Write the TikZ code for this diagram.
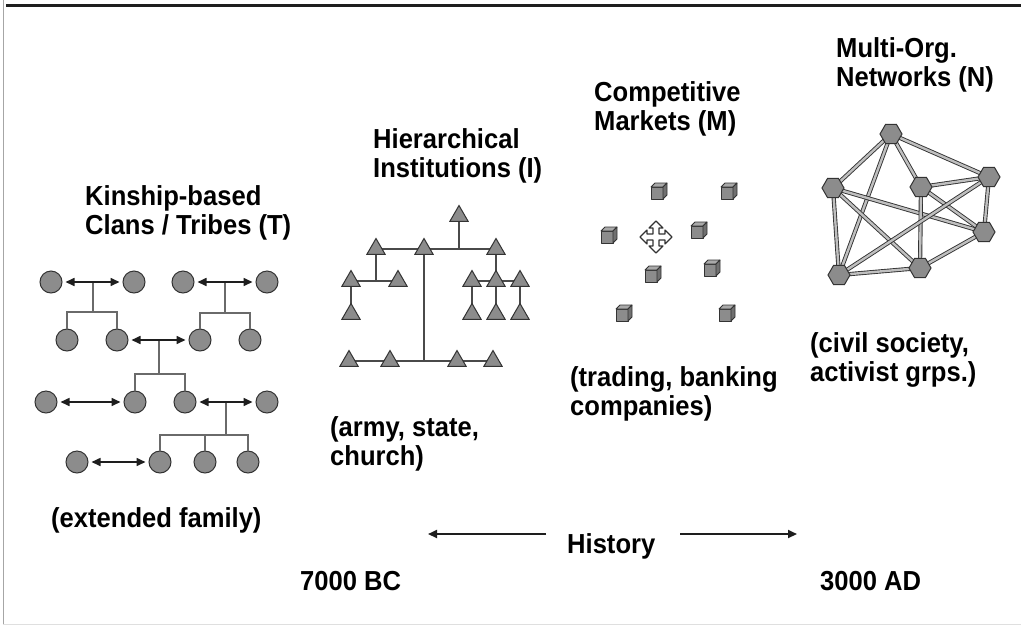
\documentclass[tikz,border=0pt]{standalone}
\usepackage{fontspec}
\setmainfont{Liberation Sans}[FakeStretch=0.93]
\usetikzlibrary{arrows.meta,shapes.geometric,backgrounds,calc}

\definecolor{ink}{HTML}{1E1E1E}
\definecolor{edge}{HTML}{333333}
\definecolor{shade}{HTML}{8C8C8C}
\definecolor{wire}{HTML}{6A6A6A}
\definecolor{rope}{HTML}{4A4A4A}

\tikzset{
  pics/box/.style={code={
    \draw[edge, fill=shade, line width=0.8pt, line join=round] (-8,-4) rectangle (4,8);
    \draw[edge, fill=shade!75!white, line width=0.8pt, line join=round] (-8,-4) -- (-4,-8) -- (8,-8) -- (4,-4) -- cycle;
    \draw[edge, fill=shade!80!black, line width=0.8pt, line join=round] (4,-4) -- (8,-8) -- (8,4) -- (4,8) -- cycle;
  }},
  pics/mover/.style={code={
    \draw[edge, fill=white, line width=1.1pt, line join=round]
      (3,3) -- (3,9) -- (7,9) -- (0,16) -- (-7,9) -- (-3,9) -- (-3,3)
      -- (-9,3) -- (-9,7) -- (-16,0) -- (-9,-7) -- (-9,-3) -- (-3,-3)
      -- (-3,-9) -- (-7,-9) -- (0,-16) -- (7,-9) -- (3,-9) -- (3,-3)
      -- (9,-3) -- (9,-7) -- (16,0) -- (9,7) -- (9,3) -- cycle;
  }}
}

\begin{document}
\begin{tikzpicture}[x=1pt, y=-1pt,
  lbl/.style={font=\bfseries\fontsize{27.5}{29}\selectfont, anchor=north west, inner sep=0pt, align=left, text=black},
  kin/.style={circle, draw=edge, fill=shade, line width=1pt, minimum size=22pt, inner sep=0pt},
  rank/.style={regular polygon, regular polygon sides=3, draw=edge, fill=shade, line width=1pt, minimum size=21pt, inner sep=0pt},
  org/.style={regular polygon, regular polygon sides=6, draw=edge, fill=shade, line width=1pt, minimum size=22pt, inner sep=0pt},
  tie/.style={draw=wire, line width=2pt},
  marry/.style={draw=ink, line width=1.6pt, {Triangle[length=9pt,width=8pt]}-{Triangle[length=9pt,width=8pt]}, shorten <=3pt, shorten >=3pt},
  chain/.style={draw=rope, line width=2pt},
  link/.style={draw=edge, line width=0.9pt, double=gray!50, double distance=2.4pt},
  timeline/.style={draw=ink, line width=2pt, -{Triangle[length=9pt,width=8pt]}},
]
\useasboundingbox (0,0) rectangle (1021,625);
\begin{pgfonlayer}{background}
  \fill[white] (0,0) rectangle (1021,625);
\end{pgfonlayer}

% frame
\draw[gray!70, line width=1.5pt] (3.3,0) -- (3.3,625);
\draw[gray!25, line width=1pt] (3.3,624) -- (1021,624);
\draw[ink, line width=3pt] (6,5.5) -- (1021,5.5);

% ---------- labels ----------
\node[lbl] (tT) at (85,185) {Kinship-based\\Clans / Tribes (T)};
\node[lbl] (tI) at (373,128) {Hierarchical\\Institutions (I)};
\node[lbl] (tM) at (594,81) {Competitive\\Markets (M)};
\node[lbl] (tN) at (836,37) {Multi-Org.\\Networks (N)};
\node[lbl] (eT) at (51,507) {(extended family)};
\node[lbl] (eI) at (330,416) {(army, state,\\church)};
\node[lbl] (eM) at (570,366) {(trading, banking\\companies)};
\node[lbl] (eN) at (810,332) {(civil society,\\activist grps.)};
\node[lbl] (hist) at (567,533) {History};
\node[lbl] (bc) at (300,571) {7000 BC};
\node[lbl] (ad) at (820,571) {3000 AD};

% ---------- history arrows ----------
\coordinate (pastS) at (546,534);
\coordinate (past) at (428,534);
\coordinate (futS) at (680,534);
\coordinate (future) at (797,534);
\draw[timeline] (pastS) -- (past);
\draw[timeline] (futS) -- (future);

% ---------- kinship tree ----------
\node[kin] (k11) at (51,282) {};
\node[kin] (k12) at (134,282) {};
\node[kin] (k13) at (183,282) {};
\node[kin] (k14) at (267,282) {};
\node[kin] (k21) at (67,340) {};
\node[kin] (k22) at (117,340) {};
\node[kin] (k23) at (200,340) {};
\node[kin] (k24) at (250,340) {};
\node[kin] (k31) at (46,402) {};
\node[kin] (k32) at (135,402) {};
\node[kin] (k33) at (185,402) {};
\node[kin] (k34) at (267,402) {};
\node[kin] (k41) at (77,462) {};
\node[kin] (k42) at (160,462) {};
\node[kin] (k43) at (205,462) {};
\node[kin] (k44) at (248,462) {};

\coordinate (m1) at ($(k11)!0.5!(k12)$);
\coordinate (m2) at ($(k13)!0.5!(k14)$);
\coordinate (m3) at ($(k22)!0.5!(k23)$);
\coordinate (m4) at ($(k33)!0.5!(k34)$);
\coordinate (j1) at (m1 |- 0,312);
\coordinate (j2) at (m2 |- 0,313);
\coordinate (j3) at (m3 |- 0,374);
\coordinate (j4) at (m4 |- 0,435);

\draw[tie] (m1) -- (j1);
\draw[tie] (k21.north) |- (j1) -| (k22.north);
\draw[tie] (m2) -- (j2);
\draw[tie] (k23.north) |- (j2) -| (k24.north);
\draw[tie] (m3) -- (j3);
\draw[tie] (k32.north) |- (j3) -| (k33.north);
\draw[tie] (m4) -- (j4);
\draw[tie] (k42.north) |- (j4) -| (k44.north);
\draw[tie] (k43.north) -- (k43 |- j4);

\draw[marry] (k11) -- (k12);
\draw[marry] (k13) -- (k14);
\draw[marry] (k22) -- (k23);
\draw[marry] (k31) -- (k32);
\draw[marry] (k33) -- (k34);
\draw[marry] (k41) -- (k42);

% ---------- hierarchy ----------
\node[rank] (r0) at (459,216) {};
\node[rank] (rA1) at (376,249) {};
\node[rank] (rA2) at (424,249) {};
\node[rank] (rA3) at (496,249) {};
\node[rank] (rB1) at (351,281) {};
\node[rank] (rB2) at (398,281) {};
\node[rank] (rB3) at (472,281) {};
\node[rank] (rB4) at (496,281) {};
\node[rank] (rB5) at (520,281) {};
\node[rank] (rC1) at (351,314) {};
\node[rank] (rC3) at (472,314) {};
\node[rank] (rC4) at (496,314) {};
\node[rank] (rC5) at (520,314) {};
\node[rank] (rD1) at (349,361) {};
\node[rank] (rD2) at (390,361) {};
\node[rank] (rD3) at (457,361) {};
\node[rank] (rD4) at (493,361) {};

\begin{pgfonlayer}{background}
  \draw[chain] (rA1.center) -- (rA3.center);
  \draw[chain] (r0.center) -- (r0 |- rA1.center);
  \draw[chain] (rA2.center) -- (rA2 |- rD1.center);
  \draw[chain] (rD1.center) -- (rD4.center);
  \draw[chain] (rA1.center) -- (rA1 |- rB1.center);
  \draw[chain] (rB1.center) -- (rB2.center);
  \draw[chain] (rB1.center) -- (rC1.center);
  \draw[chain] (rA3.center) -- (rB4.center);
  \draw[chain] (rB3.center) -- (rB5.center);
  \draw[chain] (rB3.center) -- (rC3.center);
  \draw[chain] (rB4.center) -- (rC4.center);
  \draw[chain] (rB5.center) -- (rC5.center);
\end{pgfonlayer}

% ---------- market ----------
\pic at (659,191) {box};
\pic at (729,191) {box};
\pic at (609,235) {box};
\pic at (699,230) {box};
\pic at (712,268) {box};
\pic at (653,274) {box};
\pic at (624,313) {box};
\pic at (727,313) {box};
\pic at (656,237) {mover};

% ---------- network ----------
\node[org] (nA) at (891,134) {};
\node[org] (nB) at (833,188) {};
\node[org] (nC) at (921,187) {};
\node[org] (nD) at (989,177) {};
\node[org] (nE) at (984,232) {};
\node[org] (nF) at (920,268) {};
\node[org] (nG) at (839,275) {};

\begin{pgfonlayer}{background}
  \foreach \a/\b in {nA/nB, nA/nG, nA/nC, nA/nD, nB/nG, nB/nF, nB/nE,
                     nC/nD, nC/nF, nC/nE, nD/nE, nD/nG, nE/nF, nF/nG}
    \draw[link] (\a.center) -- (\b.center);
\end{pgfonlayer}
\end{tikzpicture}
\end{document}
